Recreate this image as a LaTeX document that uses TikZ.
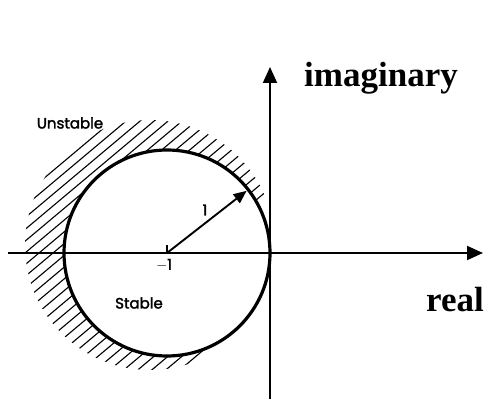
\documentclass[tikz,border=0pt]{standalone}
\usepackage{fontspec}
\setmainfont{Liberation Serif}
\newfontfamily\geofont[FakeBold=2]{Poppins}
\usetikzlibrary{arrows.meta,calc}
\begin{document}
\begin{tikzpicture}[x=1pt,y=1pt,
  axisline/.style={line width=1.9pt,-{Triangle[length=16pt,width=14pt]}},
  circleline/.style={line width=3.2pt},
  hatchline/.style={line width=1.1pt},
  sanslabel/.style={font=\geofont\fontsize{15}{15}\selectfont,inner sep=0pt},
  boldlabel/.style={font=\bfseries\fontsize{35}{35}\selectfont,inner sep=0pt}]
\useasboundingbox (0,0) rectangle (485,400);
% key points
\coordinate (c) at (167,147);
\coordinate (o) at (270,147);
\coordinate (rl) at (8,147);
\coordinate (rr) at (483,147);
\coordinate (ib) at (270,1);
\coordinate (it) at (270,333);
\coordinate (tk) at (167,155);
\coordinate (hc) at (150,155);
% hatching
\begin{scope}[even odd rule]
  \clip (c) -- ++(28:240) arc[start angle=28,end angle=292,radius=240] -- cycle;
  \clip (hc) circle[radius=125] (c) circle[radius=104];
  \foreach \s in {-500,-486,...,480}
    \draw[hatchline] (\s,0) -- ++(500,420);
\end{scope}
% axes
\draw[axisline] (rl) -- (rr);
\draw[axisline] (ib) -- (it);
% circle
\draw[circleline] (c) circle[radius=103];
% tick and radius arrow
\draw[line width=1.2pt] (c) -- (tk);
\draw[line width=1.9pt,-{Triangle[length=13pt,width=11pt]}] (c) -- ($(c)+(38:101)$);
% labels
\node[sanslabel] (one) at (205,190) {1};
\node[sanslabel] (mone) at (164,135) {$-$1};
\node[sanslabel] (unst) at (70,277) {Unstable};
\node[sanslabel] (stab) at (139,97) {Stable};
\node[boldlabel] (imag) at (381,322) {imaginary};
\node[boldlabel] (real) at (455,100) {real};
\end{tikzpicture}
\end{document}
